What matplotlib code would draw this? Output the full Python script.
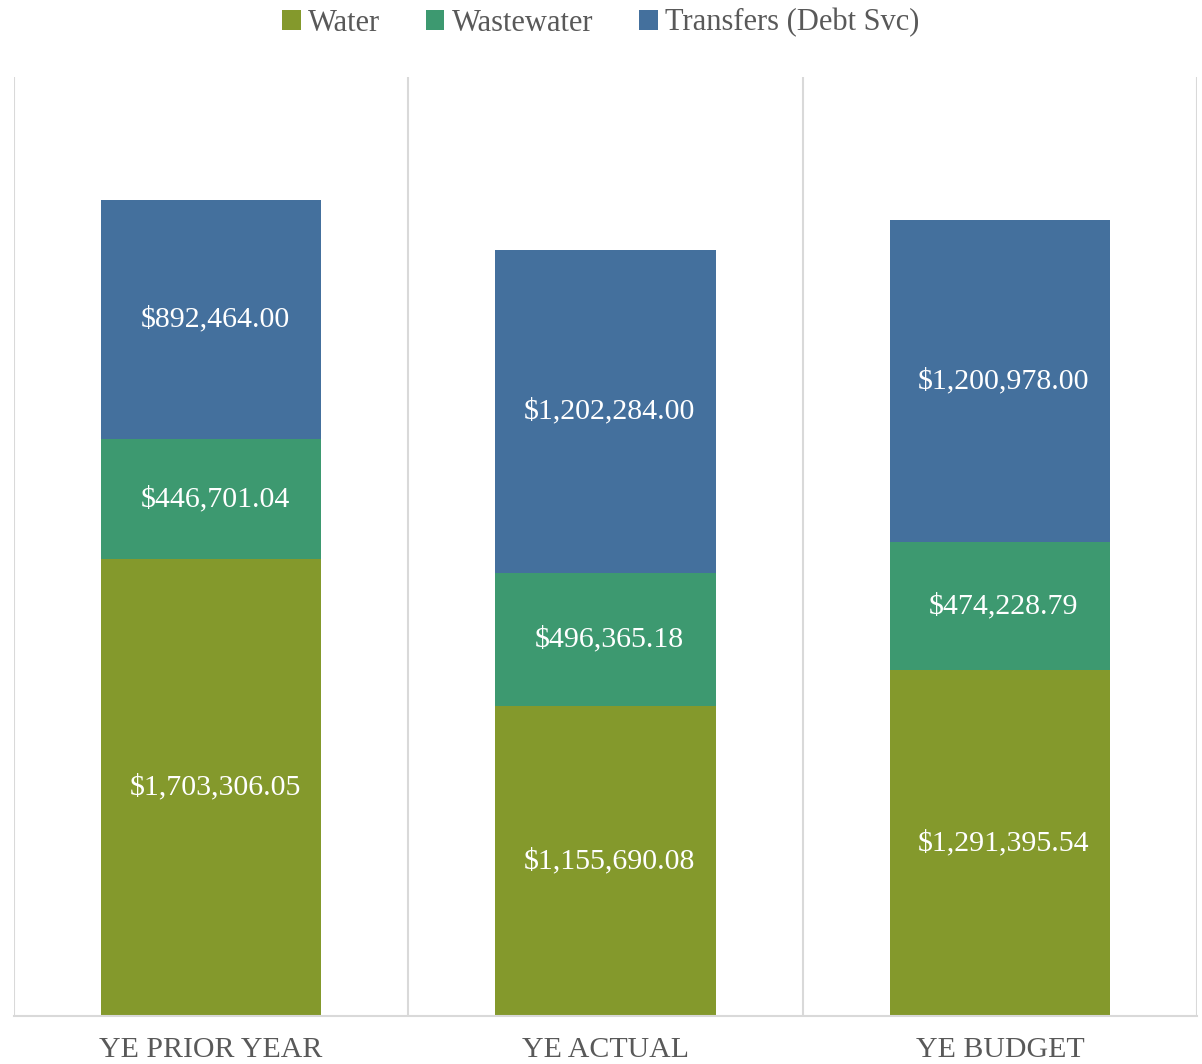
import matplotlib.pyplot as plt
import numpy as np

# data
categories = ['YE PRIOR YEAR', 'YE ACTUAL', 'YE BUDGET']
water = [1703306.05, 1155690.08, 1291395.54]
wastewater = [446701.04, 496365.18, 474228.79]
transfers = [892464.00, 1202284.00, 1200978.00]

series_names = ['Water', 'Wastewater', 'Transfers (Debt Svc)']
colors = ['#84992C', '#3D9970', '#44709D']

plt.rcParams['font.family'] = ['Liberation Serif', 'DejaVu Serif']

fig = plt.figure(figsize=(12.02, 10.64), dpi=100)
ax = fig.add_axes([14 / 1202, 48 / 1064, 1183 / 1202, 939 / 1064])

x = np.arange(len(categories))
bottom = np.zeros(len(categories))
for name, vals, col in zip(series_names, [water, wastewater, transfers], colors):
    vals = np.array(vals)
    ax.bar(x, vals, 0.558, bottom=bottom, color=col, label=name, linewidth=0)
    # value labels in the middle of each segment
    for xi, b, v in zip(x, bottom, vals):
        ax.text(xi + 0.01, b + v / 2, f'${v:,.2f}', ha='center', va='center',
                color='white', fontsize=21.5)
    bottom += vals

ax.set_xlim(-0.5, 2.5)
ax.set_ylim(0, 3500000)

# vertical separators between categories
ax.set_xticks([-0.5, 0.5, 1.5, 2.5], minor=True)
ax.grid(True, which='minor', axis='x', color='#D9D9D9', linewidth=1.5)
ax.set_axisbelow(True)
ax.tick_params(which='minor', length=0)

ax.set_xticks(x)
ax.set_xticklabels(categories, fontsize=21.5, color='#595959')
ax.tick_params(axis='x', which='major', length=0, pad=15)
ax.set_yticks([])

for s in ['top', 'left', 'right']:
    ax.spines[s].set_visible(False)
ax.spines['bottom'].set_color('#D9D9D9')
ax.spines['bottom'].set_linewidth(1.5)

leg = fig.legend(loc='upper center', bbox_to_anchor=(0.5, 1.018), ncol=3, frameon=False,
                 fontsize=22, handlelength=0.6, handleheight=0.6, handletextpad=0.25,
                 columnspacing=1.5)
for t in leg.get_texts():
    t.set_color('#595959')

fig.savefig('out.png', dpi=100)
